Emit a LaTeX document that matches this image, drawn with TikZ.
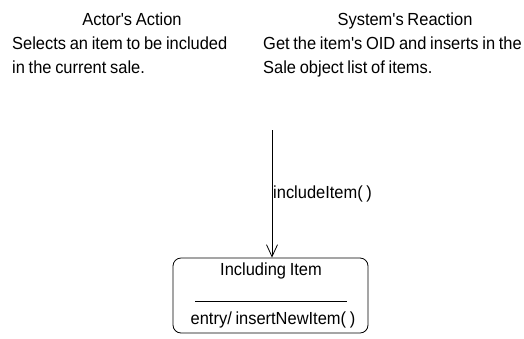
\documentclass[tikz,border=0pt]{standalone}
\usepackage{fontspec}
\setmainfont{Liberation Sans}[FakeStretch=0.94, Ligatures={ResetAll,TeXOff}]
\usetikzlibrary{arrows.meta}
\newcommand{\mytxtfont}{\fontsize{17.5}{20}\selectfont\spaceskip=3.7pt plus 1pt minus 0.3pt\relax}
\tikzset{
  txt/.style={inner sep=0pt, font=\mytxtfont},
  statebox/.style={draw, rounded corners=8pt, line width=0.8pt, minimum width=195pt, minimum height=75pt, inner sep=0pt},
  conn/.style={line width=0.8pt, -{Straight Barb[length=12pt,width=11pt,line width=0.8pt]}},
}
\begin{document}
\begin{tikzpicture}[x=1pt,y=-1pt]
\useasboundingbox (0,0) rectangle (524,338);
\node[txt, anchor=base] (aa) at (132,25) {Actor's Action};
\node[txt, anchor=base west] (a1) at (12,49) {Selects an item to be included};
\node[txt, anchor=base west] (a2) at (12,73) {in the current sale.};
\node[txt, anchor=base] (sr) at (405,25) {System's Reaction};
\node[txt, anchor=base west] (s1) at (263,49) {Get the item's OID and inserts in the};
\node[txt, anchor=base west] (s2) at (263,73) {Sale object list of items.};
\node[statebox] (st) at (270.5,295.5) {};
\node[txt, anchor=base] (stname) at (271,275) {Including Item};
\coordinate (sepL) at (195,301);
\coordinate (sepR) at (347,301);
\draw[line width=0.8pt] (sepL) -- (sepR);
\node[txt, anchor=base] (entry) at (273,324) {entry/ insertNewItem( )};
\coordinate (start) at (272,130);
\draw[conn] (start) -- (start |- st.north);
\node[txt, anchor=base west] (lbl) at (273,198) {includeItem( )};
\end{tikzpicture}
\end{document}
